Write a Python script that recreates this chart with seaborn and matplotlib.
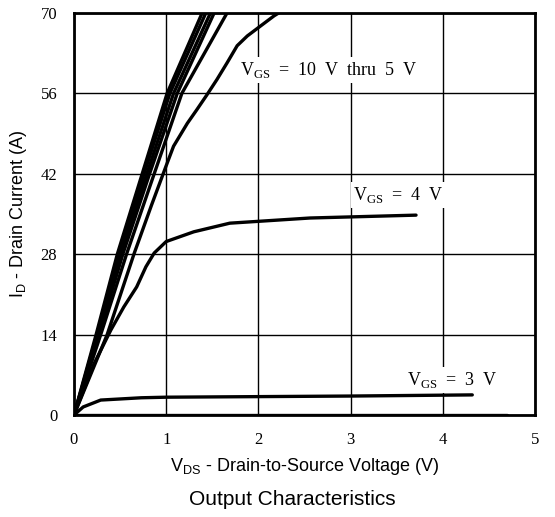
import matplotlib
matplotlib.use("Agg")
import matplotlib.pyplot as plt
import pandas as pd
import seaborn as sns

# Output characteristics: V_DS (V) against I_D (A) for each gate voltage
vds_10v = [0, 0.24, 0.47, 0.74, 1.01, 1.39]
id_10v = [0, 14, 28, 42, 56, 70]
vds_8v = [0, 0.25, 0.49, 0.76, 1.04, 1.43]
id_8v = [0, 14, 28, 42, 56, 70]
vds_7v = [0, 0.26, 0.51, 0.79, 1.08, 1.48]
id_7v = [0, 14, 28, 42, 56, 70]
vds_6v = [0, 0.27, 0.53, 0.82, 1.12, 1.52]
id_6v = [0, 14, 28, 42, 56, 70]
vds_5p5v = [0, 0.29, 0.57, 0.87, 1.17, 1.66]
id_5p5v = [0, 14, 28, 42, 56, 70]
vds_5v = [0, 0.36, 0.65, 0.84, 1.00, 1.08, 1.23, 1.33, 1.44, 1.55, 1.66, 1.77,
          1.88, 2.17, 2.22]
id_5v = [0, 14, 28, 36.5, 43.4, 46.8, 50.8, 53.1, 55.7, 58.4, 61.3, 64.3,
         66.0, 69.5, 70]
vds_4v = [0, 0.22, 0.40, 0.54, 0.68, 0.78, 0.87, 1.00, 1.30, 1.69, 2.56, 3.71]
id_4v = [0, 9.0, 14.8, 18.8, 22.3, 25.8, 28.2, 30.2, 31.9, 33.4, 34.3, 34.8]
vds_3v = [0, 0.10, 0.29, 0.73, 1.00, 2.00, 3.00, 4.32]
id_3v = [0, 1.4, 2.6, 3.0, 3.1, 3.2, 3.3, 3.5]
vds_2v = [0, 4.70]
id_2v = [0, 0]

curves = {
    "10 V": (vds_10v, id_10v),
    "8 V": (vds_8v, id_8v),
    "7 V": (vds_7v, id_7v),
    "6 V": (vds_6v, id_6v),
    "5.5 V": (vds_5p5v, id_5p5v),
    "5 V": (vds_5v, id_5v),
    "4 V": (vds_4v, id_4v),
    "3 V": (vds_3v, id_3v),
    "2 V": (vds_2v, id_2v),
}

x_ticks = [0, 1, 2, 3, 4, 5]
y_ticks = [0, 14, 28, 42, 56, 70]

rows = []
for name, (xs, ys) in curves.items():
    for i, (xv, yv) in enumerate(zip(xs, ys)):
        rows.append({"vgs": name, "order": i, "vds": xv, "id": yv})
df = pd.DataFrame(rows)

sns.set_theme(style="white")
plt.rcParams["font.family"] = ["Liberation Sans", "DejaVu Sans"]
plt.rcParams["mathtext.fontset"] = "custom"
plt.rcParams["mathtext.rm"] = "Liberation Serif"
plt.rcParams["mathtext.sf"] = "Liberation Sans"

fig = plt.figure(figsize=(5.55, 5.17), dpi=100)
ax = fig.add_axes([0.1333, 0.1973, 0.8306, 0.7776])

sns.lineplot(data=df, x="vds", y="id", units="vgs", estimator=None,
             sort=False, color="black", linewidth=2.4, ax=ax, zorder=3)

ax.set_xlim(0, 5)
ax.set_ylim(0, 70)
ax.set_xticks(x_ticks)
ax.set_yticks(y_ticks)
ax.set_xticklabels([str(v) for v in x_ticks], family="Liberation Serif", fontsize=12)
ax.set_yticklabels([str(v) for v in y_ticks], family="Liberation Serif", fontsize=12)
ax.tick_params(axis="x", length=0, pad=12, colors="black")
ax.tick_params(axis="y", length=0, pad=12, colors="black")
ax.grid(True, color="black", linewidth=1.0)
ax.set_axisbelow(True)
for sp in ax.spines.values():
    sp.set_color("black")
    sp.set_linewidth(2.0)
    sp.set_zorder(4)

ax.set_xlabel(r"V$_{\mathsf{DS}}$ - Drain-to-Source Voltage (V)", fontsize=13,
              color="black", labelpad=6)
ax.set_ylabel(r"I$_{\mathsf{D}}$ - Drain Current (A)", fontsize=13,
              color="black", labelpad=8)

box = dict(facecolor="white", edgecolor="none", pad=2.0)
tfont = dict(family="Liberation Serif", fontsize=13, color="black",
             va="baseline", ha="left", bbox=box, zorder=5)
ax.text(1.80, 59.2, r"V$_{\mathrm{GS}}$  =  10  V  thru  5  V", **tfont)
ax.text(3.03, 37.4, r"V$_{\mathrm{GS}}$  =  4  V", **tfont)
ax.text(3.61, 5.2, r"V$_{\mathrm{GS}}$  =  3  V", **tfont)

fig.text(0.526, 0.033, "Output Characteristics", ha="center", va="center",
         fontsize=15, color="black")

fig.savefig("out.png", dpi=100)
